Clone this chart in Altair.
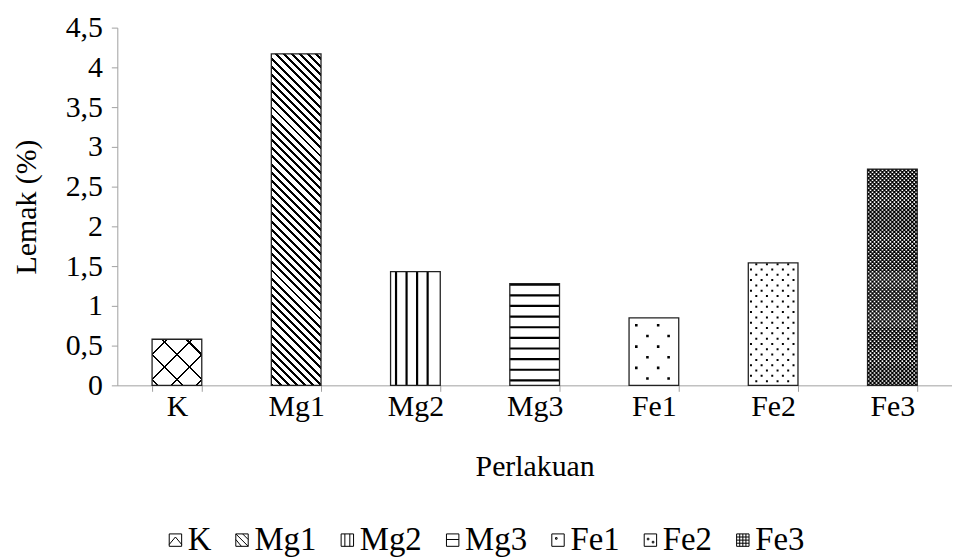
import math
import altair as alt
import pandas as pd

# ---------------- data ----------------
categories = ["K", "Mg1", "Mg2", "Mg3", "Fe1", "Fe2", "Fe3"]
lemak = [0.58, 4.17, 1.43, 1.28, 0.85, 1.54, 2.72]
y_ticks = [0, 0.5, 1, 1.5, 2, 2.5, 3, 3.5, 4, 4.5]

# ---------------- layout / style ----------------
W_PLOT, H_PLOT = 840, 360
Y_MAX = 4.5
BAR_W = 50.0                      # bar width in px (= bandwidth)
PX = H_PLOT / Y_MAX               # px per unit
STEP = W_PLOT / len(categories)
PAD_INNER = 1 - BAR_W / STEP
PAD_OUTER = PAD_INNER / 2
FONT = "Liberation Serif"
AXIS_GRAY = "#a0a0a0"

value_of = dict(zip(categories, lemak))
df = pd.DataFrame({"cat": categories, "val": lemak})
df["half"] = df["val"] / 2


def hatch_gradient(W, H, d, spacing, thick, phase=0.0, color="black",
                   bg="rgba(0,0,0,0)"):
    """Linear gradient (objectBoundingBox) producing parallel stripes of a
    given direction / spacing in user space for a W x H box."""
    dx, dy = d
    n = math.hypot(dx, dy)
    dx, dy = dx / n, dy / n
    corners = [(0, 0), (W, 0), (0, H), (W, H)]
    dists = [x * dy - y * dx for x, y in corners]
    dmin, dmax = min(dists), max(dists)
    i0 = dists.index(dmin)
    L = dmax - dmin
    k = L / (W * H * (dy * dy / (H * H) + dx * dx / (W * W)))
    vx, vy = k * dy / H, -k * dx / W
    x1, y1 = corners[i0][0] / W, corners[i0][1] / H
    stops = [(0.0, bg)]
    c = phase
    while c - thick / 2 < L:
        a = max(0.0, (c - thick / 2) / L)
        b = min(1.0, (c + thick / 2) / L)
        if b > 0:
            stops += [(a, bg), (a, color), (b, color), (b, bg)]
        c += spacing
    stops.append((1.0, bg))
    return {"gradient": "linear", "x1": x1, "y1": y1,
            "x2": x1 + vx, "y2": y1 + vy,
            "stops": [{"offset": round(o, 5), "color": col} for o, col in stops]}


# rule-based pattern columns (offset inside bar in px, dash, dash offset)
RULE_PATTERNS = [
    # grp, cat, offsets, strokeWidth, dash, dashOffset
    ("mg2", "Mg2", [5.5, 16.1, 26.7, 37.3], 2.2, None, None),
    ("mg3", "Mg3", [25.0], 50.0, [2.2, 8.5], 0),
    ("fe1a", "Fe1", [7.3, 29.3], 2.6, [2.6, 18.8], 15.1),
    ("fe1b", "Fe1", [18.5, 39.8], 2.6, [2.6, 18.8], 4.4),
    ("fe2a", "Fe2", [2.7 + 10.7 * i for i in range(5)], 2.0, [2, 8.7], 5.1),
    ("fe2b", "Fe2", [8.05 + 10.7 * i for i in range(4)], 2.0, [2, 8.7], 10.4),
    ("fe3a", "Fe3", [1.0 + 4 * i for i in range(13)], 2.4, [2.4, 1.6], 0),
    ("fe3b", "Fe3", [3.0 + 4 * i for i in range(12)], 2.4, [2.4, 1.6], 2),
]
rows = []
for grp, cat, offs, sw, dash, doff in RULE_PATTERNS:
    for o in offs:
        rows.append({"cat": cat, "val": value_of[cat], "base": 0.0,
                     "dx": o - BAR_W / 2, "grp": grp})
pat_df = pd.DataFrame(rows)

# legend symbol paths (coordinates in [-1, 1])
SQ = "M-1,-1H1V1H-1Z"
legend_paths = [
    SQ + "M-1,0.7L0,-0.5L1,0.7",
    SQ + "M-1,-1L1,1M-1,-0.1L-0.1,1M0.1,-1L1,-0.1",
    SQ + "M-0.4,-1V1M0.4,-1V1",
    SQ + "M-1,-0.1H1",
    SQ + "M-0.4,-0.4h0.25v0.25h-0.25Z",
    SQ + "M-0.5,-0.3h0.25v0.25h-0.25ZM0.3,0.2h0.25v0.25h-0.25Z",
    SQ + "M-1,-0.5H1M-1,0H1M-1,0.5H1M-0.5,-1V1M0,-1V1M0.5,-1V1",
]

X = alt.X("cat:N", sort=categories,
          scale=alt.Scale(domain=categories, paddingInner=PAD_INNER,
                          paddingOuter=PAD_OUTER),
          axis=alt.Axis(title="Perlakuan", labelAngle=0, tickBand="extent",
                        tickSize=6, labelPadding=0, titlePadding=31))


def y_enc(field):
    return alt.Y(f"{field}:Q",
                 scale=alt.Scale(domain=[0, Y_MAX], nice=False),
                 axis=alt.Axis(values=y_ticks, title="Lemak (%)", grid=False,
                               labelExpr="replace(format(datum.value, '~g'), '.', ',')",
                               tickSize=6, labelPadding=9, titlePadding=24))


layers = []

# legend carrier (hidden below the white bars)
layers.append(
    alt.Chart(df).mark_point(filled=False, color="black", size=156,
                             strokeWidth=1, opacity=1).encode(
        x=X, y=y_enc("half"),
        shape=alt.Shape("cat:N", sort=categories,
                        scale=alt.Scale(domain=categories, range=legend_paths),
                        legend=alt.Legend(title=None, orient="none",
                                          legendX=42, legendY=499,
                                          direction="horizontal", columns=7,
                                          columnPadding=14,
                                          labelOffset=alt.ExprRef(expr="-4"),
                                          symbolSize=156, symbolStrokeWidth=1,
                                          symbolStrokeColor="black",
                                          labelFont=FONT, labelFontSize=33,
                                          labelColor="black", padding=0)))
)

# white base bars
layers.append(alt.Chart(df).mark_bar(color="white").encode(x=X, y=y_enc("val")))

# gradient hatch layers
H_K = value_of["K"] * PX
H_MG1 = value_of["Mg1"] * PX
for grad in (hatch_gradient(BAR_W, H_K, (1, 1), 17.7, 1.5, phase=4.0),
             hatch_gradient(BAR_W, H_K, (1, -1), 17.7, 1.5, phase=4.0)):
    layers.append(alt.Chart(df).transform_filter(alt.datum.cat == "K")
                  .mark_bar(fill=grad).encode(x=X, y=y_enc("val")))
layers.append(alt.Chart(df).transform_filter(alt.datum.cat == "Mg1")
              .mark_bar(fill=hatch_gradient(BAR_W, H_MG1, (1, 1), 5.8, 2.1,
                                            phase=1.0))
              .encode(x=X, y=y_enc("val")))

# rule pattern layers
for grp, cat, offs, sw, dash, doff in RULE_PATTERNS:
    kw = dict(color="black", strokeWidth=sw, strokeCap="butt",
              xOffset=alt.ExprRef(expr="datum.dx"))
    if dash is not None:
        kw["strokeDash"] = dash
    if doff is not None:
        kw["strokeDashOffset"] = doff
    layers.append(alt.Chart(pat_df).transform_filter(alt.datum.grp == grp)
                  .mark_rule(**kw)
                  .encode(x=X, y=y_enc("val"), y2="base:Q"))

# bar borders
layers.append(alt.Chart(df).mark_bar(fillOpacity=0, stroke="#222",
                                     strokeWidth=1.3)
              .encode(x=X, y=y_enc("val")))

chart = (alt.layer(*layers)
         .properties(width=W_PLOT, height=H_PLOT,
                     autosize=alt.AutoSizeParams(type="none"),
                     padding={"left": 110, "top": 18, "right": 0, "bottom": 172})
         .configure_view(stroke=None)
         .configure_axis(domainColor=AXIS_GRAY, tickColor=AXIS_GRAY,
                         labelFont=FONT, titleFont=FONT, labelFontSize=30,
                         titleFontSize=30, titleFontWeight="normal",
                         labelColor="black", titleColor="black"))

chart.save("out.html", embed_options={"renderer": "svg", "actions": False})
